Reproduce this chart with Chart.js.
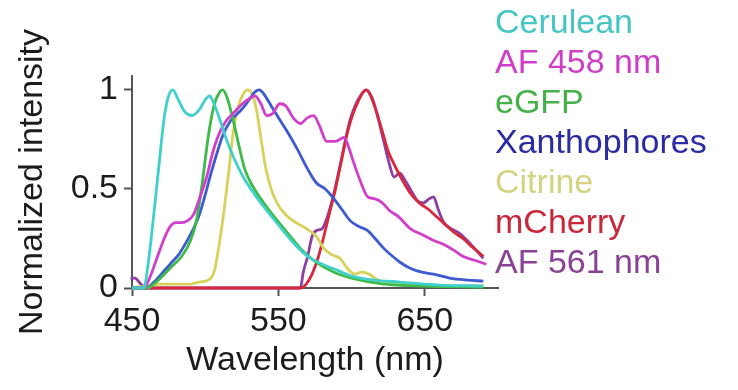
<!DOCTYPE html>
<html>
<head>
<meta charset="utf-8">
<script src="https://cdn.jsdelivr.net/npm/chart.js@4.4.1/dist/chart.umd.min.js"></script>
<style>
  html, body { margin: 0; padding: 0; background: #ffffff; }
  #wrap { position: relative; width: 738px; height: 390px; overflow: hidden; }
  #chart { position: absolute; left: 0; top: 0; }
  #legend {
    position: absolute; left: 495px; top: 1px;
    font-family: 'Liberation Sans', Arial, sans-serif;
    font-size: 34px; line-height: 40px; white-space: nowrap;
  }
</style>
</head>
<body>
<div id="wrap">
  <canvas id="chart" width="738" height="390"></canvas>
  <div id="legend"></div>
</div>
<script>
// Emission spectra, normalized intensity vs wavelength (nm)
const seriesNames = ['Cerulean', 'AF 458 nm', 'eGFP', 'Xanthophores', 'Citrine', 'mCherry', 'AF 561 nm'];
const seriesColors = ['#3fd0cb', '#d23ecc', '#3dbb47', '#3d5ad2', '#d8d25a', '#d8283c', '#8e3fa3'];
const legendColors = ['#45c6c4', '#cc3fc6', '#46b04a', '#2b2ba3', '#d4d384', '#c8283a', '#8a4296'];

const xTicks = [450, 550, 650];
const yTicks = [0, 0.5, 1];
const yTickLabels = ['0', '0.5', '1'];

const ceruleanNm  = [450, 458, 461, 465, 469, 472, 475, 478, 481, 486, 491, 496, 500, 503, 506, 510, 515, 520, 526, 533, 540, 551, 560, 570, 580, 590, 600, 615, 633, 660, 690];
const ceruleanVal = [0, 0, 0.12, 0.38, 0.66, 0.86, 0.97, 1.0, 0.96, 0.89, 0.87, 0.9, 0.95, 0.97, 0.93, 0.85, 0.74, 0.65, 0.56, 0.48, 0.41, 0.31, 0.23, 0.16, 0.12, 0.09, 0.06, 0.04, 0.03, 0.015, 0.01];

const af458Nm  = [450, 458, 462, 467, 472, 476, 480, 484, 488, 492, 496, 501, 505, 509, 514, 519, 524, 529, 534, 538, 542, 546, 551, 555, 560, 565, 570, 574, 578, 583, 589, 595, 598, 602, 607, 611, 616, 621, 626, 632, 640, 648, 656, 663, 670, 676, 684, 692];
const af458Val = [0, 0, 0.05, 0.15, 0.25, 0.31, 0.33, 0.33, 0.34, 0.37, 0.45, 0.56, 0.68, 0.77, 0.84, 0.88, 0.92, 0.95, 0.97, 0.93, 0.87, 0.88, 0.93, 0.92, 0.86, 0.83, 0.86, 0.87, 0.82, 0.74, 0.74, 0.76, 0.71, 0.62, 0.52, 0.46, 0.45, 0.43, 0.39, 0.36, 0.3, 0.27, 0.24, 0.22, 0.19, 0.16, 0.14, 0.12];

const egfpNm  = [450, 460, 468, 476, 484, 490, 494, 498, 502, 506, 510, 512, 515, 519, 523, 527, 532, 538, 546, 556, 565, 574, 588, 600, 622, 650, 690];
const egfpVal = [0, 0, 0.04, 0.1, 0.16, 0.24, 0.34, 0.53, 0.76, 0.92, 0.99, 1.0, 0.96, 0.85, 0.72, 0.6, 0.52, 0.45, 0.37, 0.28, 0.2, 0.14, 0.08, 0.05, 0.02, 0.01, 0.005];

const xanthoNm  = [450, 460, 465, 470, 476, 482, 487, 492, 496, 500, 504, 508, 512, 517, 522, 526, 530, 534, 537, 540, 545, 550, 556, 563, 570, 576, 582, 588, 594, 599, 605, 611, 616, 622, 628, 633, 640, 648, 656, 667, 679, 690];
const xanthoVal = [0, 0, 0.03, 0.07, 0.12, 0.17, 0.23, 0.3, 0.37, 0.47, 0.58, 0.68, 0.77, 0.84, 0.88, 0.91, 0.95, 0.99, 1.0, 0.98, 0.92, 0.86, 0.79, 0.7, 0.6, 0.53, 0.5, 0.45, 0.39, 0.34, 0.31, 0.29, 0.25, 0.2, 0.16, 0.13, 0.1, 0.08, 0.07, 0.05, 0.04, 0.035];

const citrineNm  = [450, 460, 470, 480, 490, 496, 502, 506, 510, 513, 516, 519, 522, 526, 529, 532, 535, 538, 541, 545, 549, 555, 562, 569, 576, 581, 586, 592, 597, 602, 607, 612, 618, 625, 640, 660, 690];
const citrineVal = [0, 0.01, 0.02, 0.02, 0.02, 0.03, 0.04, 0.08, 0.24, 0.4, 0.58, 0.78, 0.9, 0.98, 1.0, 0.98, 0.9, 0.76, 0.62, 0.5, 0.43, 0.37, 0.33, 0.3, 0.26, 0.2, 0.17, 0.15, 0.1, 0.07, 0.08, 0.07, 0.04, 0.03, 0.02, 0.01, 0.01];

const mcherryNm  = [450, 565, 569, 573, 577, 581, 585, 589, 593, 597, 601, 605, 608, 610, 613, 617, 621, 625, 630, 635, 640, 646, 652, 658, 664, 670, 676, 682, 690];
const mcherryVal = [0, 0, 0.02, 0.07, 0.15, 0.26, 0.38, 0.5, 0.64, 0.78, 0.88, 0.95, 0.99, 1.0, 0.97, 0.89, 0.79, 0.69, 0.61, 0.54, 0.48, 0.43, 0.4, 0.36, 0.32, 0.28, 0.25, 0.21, 0.16];

const af561Nm  = [446, 449, 452, 456, 460, 565, 567, 570, 573, 576, 580, 583, 587, 591, 595, 599, 603, 607, 610, 614, 618, 622, 626, 629, 633, 636, 640, 645, 649, 653, 656, 659, 663, 668, 673, 679, 684, 690];
const af561Val = [0, 0.05, 0.05, 0.02, 0, 0, 0.08, 0.16, 0.26, 0.29, 0.3, 0.35, 0.45, 0.58, 0.72, 0.85, 0.93, 0.98, 1.0, 0.96, 0.86, 0.74, 0.62, 0.56, 0.58, 0.55, 0.5, 0.44, 0.43, 0.45, 0.46, 0.4, 0.33, 0.3, 0.28, 0.24, 0.2, 0.15];

const seriesNm  = [ceruleanNm, af458Nm, egfpNm, xanthoNm, citrineNm, mcherryNm, af561Nm];
const seriesVal = [ceruleanVal, af458Val, egfpVal, xanthoVal, citrineVal, mcherryVal, af561Val];

const FONT = "'Liberation Sans', Arial, sans-serif";
const AXIS = '#555555';
const TEXT = '#1c1c1c';

const datasets = seriesNames.map((name, i) => ({
  label: name,
  data: seriesNm[i].map((nm, k) => ({ x: nm, y: seriesVal[i][k] })),
  borderColor: seriesColors[i],
  backgroundColor: seriesColors[i],
  borderWidth: 2.8,
  pointRadius: 0,
  fill: false,
  cubicInterpolationMode: 'monotone',
  clip: false
}));

// HTML legend on the right, one coloured name per line
const legendEl = document.getElementById('legend');
seriesNames.forEach((name, i) => {
  const d = document.createElement('div');
  d.textContent = name;
  d.style.color = legendColors[i];
  legendEl.appendChild(d);
});

new Chart(document.getElementById('chart'), {
  type: 'line',
  data: { datasets },
  options: {
    responsive: false,
    animation: false,
    layout: { padding: { left: 0, right: 240, top: 76, bottom: 0 } },
    plugins: { legend: { display: false }, tooltip: { enabled: false } },
    scales: {
      x: {
        type: 'linear',
        min: 450,
        max: 700,
        afterBuildTicks: (scale) => { scale.ticks = xTicks.map(v => ({ value: v })); },
        afterFit: (scale) => { scale.height = 102; },
        border: { display: true, color: AXIS, width: 2 },
        grid: { display: true, drawOnChartArea: false, drawTicks: true, tickLength: 8, tickColor: AXIS, tickWidth: 2 },
        ticks: { color: TEXT, font: { family: FONT, size: 34 }, padding: 5, maxRotation: 0, autoSkip: false },
        title: { display: true, text: 'Wavelength (nm)', color: TEXT, font: { family: FONT, size: 34 }, padding: { top: 0, bottom: 9 } }
      },
      y: {
        type: 'linear',
        min: 0,
        max: 1.07,
        afterBuildTicks: (scale) => { scale.ticks = yTicks.map(v => ({ value: v })); },
        afterFit: (scale) => { scale.width = 132; },
        border: { display: true, color: AXIS, width: 2 },
        grid: { display: true, drawOnChartArea: false, drawTicks: true, tickLength: 8, tickColor: AXIS, tickWidth: 2 },
        ticks: {
          color: TEXT, font: { family: FONT, size: 34 }, padding: 6,
          callback: (value) => { const i = yTicks.indexOf(value); return i >= 0 ? yTickLabels[i] : ''; }
        },
        title: { display: true, text: 'Normalized intensity', color: TEXT, font: { family: FONT, size: 34 }, padding: { top: 12, bottom: 0 } }
      }
    }
  }
});
</script>
</body>
</html>
